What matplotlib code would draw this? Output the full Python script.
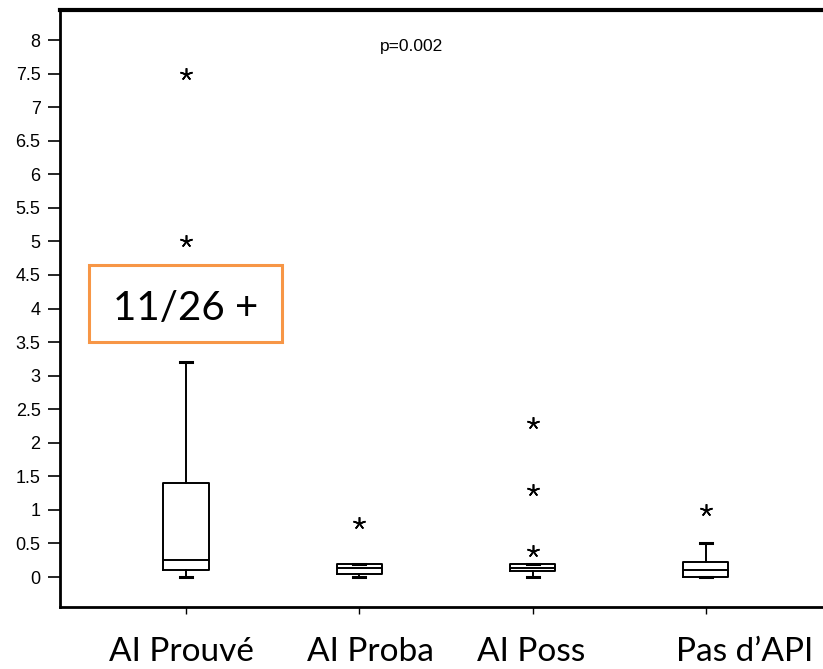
import matplotlib
matplotlib.use("Agg")
import matplotlib.pyplot as plt
from matplotlib.patches import Rectangle
import numpy as np

# Box statistics
groups = ["AI Prouvé", "AI Proba", "AI Poss", "Pas d\u2019API"]
q1 = [0.10, 0.045, 0.095, 0.0]
med = [0.25, 0.14, 0.13, 0.10]
q3 = [1.40, 0.20, 0.20, 0.22]
whislo = [0.0, 0.0, 0.0, 0.0]
whishi = [3.20, 0.20, 0.20, 0.51]
outliers = [[7.5, 5.0], [0.8], [2.3, 1.3, 0.39], [1.0]]
p_text = "p=0.002"
box_text = "11/26 +"

stats = []
for i in range(len(groups)):
    stats.append(dict(med=med[i], q1=q1[i], q3=q3[i], whislo=whislo[i],
                      whishi=whishi[i], fliers=outliers[i], label=groups[i]))

fig = plt.figure(figsize=(8.23, 6.69), dpi=100)
ax = fig.add_axes([60/823, 1 - 607/669, 763/823, 597/669])

lw = 1.4
ax.bxp(stats, positions=[1, 2, 3, 4], widths=0.26, capwidths=0.07,
       boxprops=dict(color="black", linewidth=lw),
       medianprops=dict(color="black", linewidth=lw),
       whiskerprops=dict(color="black", linewidth=lw),
       capprops=dict(color="black", linewidth=2.2),
       flierprops=dict(marker=(5, 2, 0), markersize=9, markeredgecolor="black",
                       markeredgewidth=1.2, linestyle="none"))

ax.set_xlim(1 - 126/173.3, 1 + 637/173.3)
ax.set_ylim(-30/67.125, 8 + 30/67.125)

yt = np.arange(0, 8.01, 0.5)
ax.set_yticks(yt)
ax.set_yticklabels(["%g" % v for v in yt], family="Liberation Sans", fontsize=13)
ax.tick_params(axis="y", direction="out", length=9, width=1.2, pad=5)
ax.set_xticks([1, 2, 3, 4])
ax.set_xticklabels([])
ax.tick_params(axis="x", direction="out", length=5, width=1.0)

ax.spines["right"].set_visible(False)
ax.spines["left"].set_linewidth(2)
ax.spines["bottom"].set_linewidth(2)
ax.spines["top"].set_linewidth(3)

ax.text(2.30, 7.9, p_text, ha="center", va="center", family="Liberation Sans", fontsize=12.5)

# category labels pasted below the axis
label_x = [0.971, 2.062, 2.99, 4.226]
for x, g in zip(label_x, groups):
    ax.text(x, -1.12, g, ha="center", va="center", family="Lato", fontsize=24, clip_on=False)

# highlighted annotation
ax.add_patch(Rectangle((0.44, 3.5), 1.114, 1.15, fill=False, edgecolor="#F79646",
                       linewidth=2.2, clip_on=False, zorder=5))
ax.text(0.997, 4.0, box_text, ha="center", va="center", family="Lato", fontsize=29)

fig.savefig("out.png", dpi=100)
